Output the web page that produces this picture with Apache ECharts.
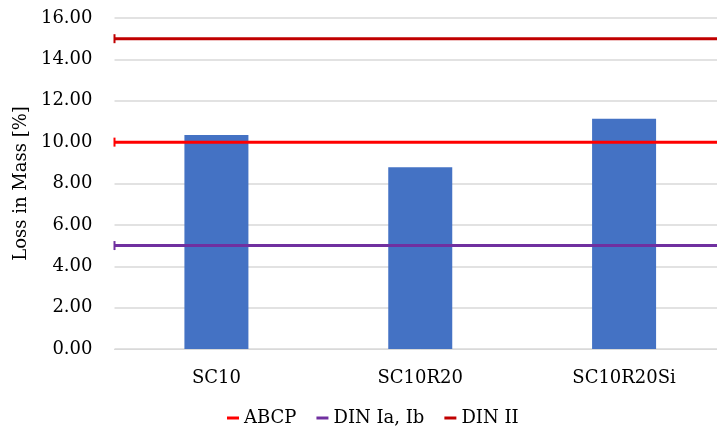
<!DOCTYPE html>
<html>
<head>
<meta charset="utf-8">
<script src="https://cdn.jsdelivr.net/npm/echarts@6/dist/echarts.min.js"></script>
<style>
  html, body { margin: 0; padding: 0; background: #fff; overflow: hidden; }
  #chart { width: 726px; height: 437px; }
</style>
</head>
<body>
<div id="chart"></div>
<script>
// Mixes and their measured loss in mass (%)
const categories = ['SC10', 'SC10R20', 'SC10R20Si'];
const lossInMass = [10.34, 8.79, 11.13];

// Reference limits drawn as horizontal lines
const limitNames = ['ABCP', 'DIN Ia, Ib', 'DIN II'];
const limitValues = [10, 5, 15];
const limitColors = ['#FF0000', '#7030A0', '#C00000'];

// Y-axis ticks
const yMin = 0, yMax = 16, yStep = 2;

const font = 'DejaVu Serif';

const limitSeries = limitNames.map((name, i) => ({
  name: name,
  type: 'line',
  xAxisIndex: 1,
  yAxisIndex: 0,
  silent: true,
  z: 5,
  lineStyle: { color: limitColors[i], width: 3 },
  itemStyle: { color: limitColors[i] },
  data: [
    { value: [0, limitValues[i]], symbol: 'rect', symbolSize: [2, 9] },
    { value: [1, limitValues[i]], symbol: 'none' }
  ],
  symbol: 'none',
  showSymbol: true
}));

const chart = echarts.init(document.getElementById('chart'), null, { renderer: 'canvas' });
chart.setOption({
  animation: false,
  backgroundColor: '#ffffff',
  textStyle: { fontFamily: font, color: '#000' },
  grid: { left: 114.5, right: 0, top: 18, bottom: 88, containLabel: false },
  legend: {
    bottom: 5,
    left: 222,
    itemWidth: 12,
    itemHeight: 3,
    itemGap: 20,
    icon: 'rect',
    textStyle: { fontFamily: font, fontSize: 18, color: '#000' },
    data: limitNames
  },
  xAxis: [
    {
      type: 'category',
      data: categories,
      axisLine: { show: true, lineStyle: { color: '#d9d9d9', width: 1 } },
      axisTick: { show: false },
      axisLabel: { fontFamily: font, fontSize: 18, color: '#000', margin: 20 },
      splitLine: { show: false }
    },
    {
      type: 'value',
      min: 0,
      max: 1,
      show: false
    }
  ],
  yAxis: {
    type: 'value',
    min: yMin,
    max: yMax,
    interval: yStep,
    name: 'Loss in Mass [%]',
    nameLocation: 'middle',
    nameGap: 84,
    nameTextStyle: { fontFamily: font, fontSize: 18, color: '#000' },
    axisLine: { show: false },
    axisTick: { show: false },
    axisLabel: {
      fontFamily: font, fontSize: 18, color: '#000', margin: 22,
      formatter: v => v.toFixed(2)
    },
    splitLine: { lineStyle: { color: '#d9d9d9', width: 1.5 } }
  },
  series: [
    {
      name: 'Loss in Mass',
      type: 'bar',
      xAxisIndex: 0,
      data: lossInMass,
      barWidth: 64,
      itemStyle: { color: '#4472C4' },
      z: 2
    },
    ...limitSeries
  ]
});
</script>
</body>
</html>
